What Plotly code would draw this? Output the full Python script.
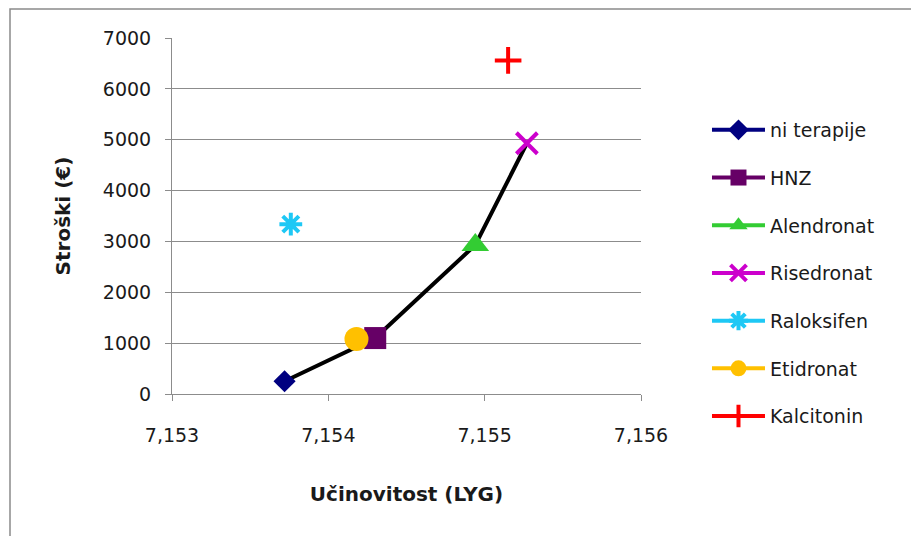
import plotly.graph_objects as go

names = ["ni terapije", "HNZ", "Alendronat", "Risedronat", "Raloksifen", "Etidronat", "Kalcitonin"]
effect = [7.15372, 7.15430, 7.15494, 7.15527, 7.15376, 7.15418, 7.15515]
cost = [250, 1100, 2930, 4930, 3340, 1080, 6560]
colors = ["#000080", "#660066", "#33CC33", "#CC00CC", "#1EC8F5", "#FFC000", "#FF0000"]
symbols = ["diamond", "square", "triangle-up", "x-thin-open", "asterisk-open", "circle", "cross-thin-open"]
sizes = [17, 22, 24, 21, 19, 24, 19]

frontier = ["ni terapije", "HNZ", "Alendronat", "Risedronat"]

fig = go.Figure()

fx = [effect[names.index(n)] for n in frontier]
fy = [cost[names.index(n)] for n in frontier]
fig.add_trace(go.Scatter(x=fx, y=fy, mode="lines", line=dict(color="black", width=4),
                         showlegend=False, hoverinfo="skip"))

for i in range(len(names)):
    thin = symbols[i].endswith("-open")
    fig.add_trace(go.Scatter(
        x=[effect[i]], y=[cost[i]], name=names[i], mode="lines+markers",
        legendgroup=names[i], legendrank=i + 1,
        line=dict(color=colors[i], width=4),
        marker=dict(symbol=symbols[i], size=sizes[i], color=colors[i],
                    line=dict(color=colors[i], width=4 if thin else 0)),
    ))

grid = "#8c8c8c"
fig.update_layout(
    width=911, height=536,
    margin=dict(l=172, r=270, t=38, b=142),
    paper_bgcolor="white", plot_bgcolor="white",
    separators=",.",
    font=dict(family="DejaVu Sans", size=19, color="#1a1a1a"),
    showlegend=True,
    legend=dict(x=1.1407, y=0.795, xanchor="left", yanchor="top",
                itemwidth=53, tracegroupgap=20, traceorder="grouped",
                font=dict(size=19, color="#1a1a1a"), bgcolor="rgba(0,0,0,0)"),
    xaxis=dict(range=[7.153, 7.156], dtick=0.001, tick0=7.153, tickformat=".3f",
               showgrid=False, zeroline=False, showline=True, linecolor=grid, linewidth=1,
               ticks="outside", ticklen=6, tickcolor=grid, ticklabelstandoff=18,
               title=dict(text="<b>Učinovitost (LYG)</b>", font=dict(size=20), standoff=42)),
    yaxis=dict(range=[0, 7000], dtick=1000, tickformat="d",
               showgrid=True, gridcolor=grid, gridwidth=1, zeroline=False,
               showline=True, linecolor=grid, linewidth=1,
               ticks="outside", ticklen=6, tickcolor=grid, ticklabelstandoff=10,
               title=dict(text="<b>Stroški (€)</b>", font=dict(size=20), standoff=26)),
    shapes=[dict(type="rect", xref="paper", yref="paper",
                 x0=(10 - 172) / 469, x1=(930 - 172) / 469,
                 y0=(394 - 560) / 356, y1=(394 - 9) / 356,
                 line=dict(color="#8a8a8a", width=1.5), fillcolor="rgba(0,0,0,0)", layer="below")],
)

fig.write_html("out.html")
